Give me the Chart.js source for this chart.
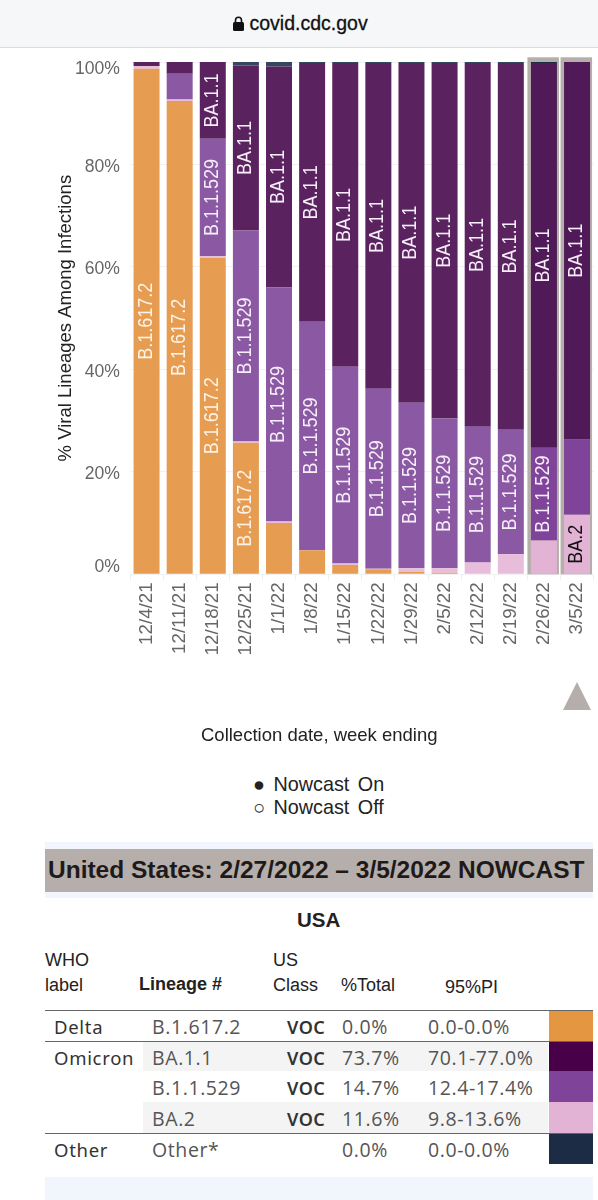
<!DOCTYPE html>
<html><head><meta charset="utf-8">
<script src="https://cdn.jsdelivr.net/npm/chart.js@4"></script>
<style>
html,body{margin:0;padding:0;background:#fff;width:598px;height:1200px;overflow:hidden}
body{position:relative;font-family:"Liberation Sans",Arial,sans-serif;color:#222}
.a{position:absolute;white-space:nowrap;line-height:1}
canvas{position:absolute;left:0;top:0}
.c{font-family:"Open Sans",sans-serif;font-size:19.5px;letter-spacing:.6px;color:#555;transform:translateY(-50%)}
.h{font-size:18px;color:#222;transform:translateY(-50%)}
.v{font-family:"Noto Sans",sans-serif;font-weight:600;font-size:18px;letter-spacing:.5px;color:#333;transform:translateY(-50%)}
.w{font-family:"Noto Sans",sans-serif;font-size:18.5px;letter-spacing:.7px;color:#333;font-weight:400;transform:translateY(-50%)}
</style></head><body>
<div class="a" style="left:0;top:0;width:598px;height:47px;background:#f5f7f9;border-bottom:1px solid #dcdcdc"></div>
<svg class="a" style="left:232px;top:16px" width="13" height="15" viewBox="0 0 13 15"><rect x="1" y="6" width="11" height="9" rx="1.5" fill="#111"/><path d="M3.5 6.5V4.2a3 3 0 0 1 6 0V6.5" fill="none" stroke="#111" stroke-width="1.6"/></svg>
<div class="a" style="left:249.5px;top:14px;font-size:19.5px;font-family:'Liberation Sans';font-weight:400;color:#111;-webkit-text-stroke:.3px #111">covid.cdc.gov</div>
<canvas id="chart" width="598" height="760"></canvas>
<svg class="a" style="left:562px;top:681px" width="30" height="30"><polygon points="15,1 29,29 1,29" fill="#b5aeaa"/></svg>
<div class="a" style="left:201px;top:726px;width:236px;text-align:center;font-size:18.5px;color:#222">Collection date, week ending</div>
<div class="a" style="left:253px;top:775px;font-size:19.8px;word-spacing:3px;color:#222">● Nowcast On</div>
<div class="a" style="left:253px;top:798px;font-size:19.8px;word-spacing:3px;color:#222">○ Nowcast Off</div>
<div class="a" style="left:45px;top:842px;width:548px;height:56px;background:#f1f5fc"></div>
<div class="a" style="left:45px;top:849px;width:548px;height:43px;background:#b5aeaa"></div>
<div class="a" style="left:48px;top:858px;font-size:24.5px;font-weight:700;color:#1f1a1a">United States: 2/27/2022 – 3/5/2022 NOWCAST</div>
<div class="a" style="left:297px;top:910px;font-size:20.5px;font-weight:700;color:#222">USA</div>
<div class="a h" style="left:45px;top:960px">WHO</div><div class="a h" style="left:45px;top:985px">label</div>
<div class="a h" style="left:139px;top:984px;font-weight:700">Lineage #</div>
<div class="a h" style="left:273px;top:960px">US</div><div class="a h" style="left:273px;top:985px">Class</div>
<div class="a h" style="left:341px;top:985px">%Total</div><div class="a h" style="left:445px;top:987px">95%PI</div>
<div class="a" style="left:143px;top:1042px;width:405px;height:29px;background:#f4f4f4"></div>
<div class="a" style="left:143px;top:1102px;width:405px;height:31px;background:#f4f4f4"></div>
<div class="a" style="left:45px;top:1010px;width:548px;height:1px;background:#666"></div>
<div class="a" style="left:45px;top:1041px;width:548px;height:1px;background:#666"></div>
<div class="a" style="left:45px;top:1133px;width:548px;height:1px;background:#666"></div>
<div class="a w" style="left:54px;top:1027px">Delta</div><div class="a w" style="left:54px;top:1058px">Omicron</div><div class="a w" style="left:54px;top:1150px">Other</div>
<div class="a c" style="left:152px;top:1027px">B.1.617.2</div><div class="a c" style="left:152px;top:1058px">BA.1.1</div><div class="a c" style="left:152px;top:1088px">B.1.1.529</div><div class="a c" style="left:152px;top:1119px">BA.2</div><div class="a c" style="left:152px;top:1150px">Other*</div>
<div class="a v" style="left:287px;top:1027px">VOC</div><div class="a v" style="left:287px;top:1058px">VOC</div><div class="a v" style="left:287px;top:1088px">VOC</div><div class="a v" style="left:287px;top:1119px">VOC</div>
<div class="a c" style="left:342px;top:1027px">0.0%</div><div class="a c" style="left:342px;top:1058px">73.7%</div><div class="a c" style="left:342px;top:1088px">14.7%</div><div class="a c" style="left:342px;top:1119px">11.6%</div><div class="a c" style="left:342px;top:1150px">0.0%</div>
<div class="a c" style="left:428px;top:1027px">0.0-0.0%</div><div class="a c" style="left:428px;top:1058px">70.1-77.0%</div><div class="a c" style="left:428px;top:1088px">12.4-17.4%</div><div class="a c" style="left:428px;top:1119px">9.8-13.6%</div><div class="a c" style="left:428px;top:1150px">0.0-0.0%</div>
<div class="a" style="left:549px;top:1011px;width:44px;height:30px;background:#e59640"></div>
<div class="a" style="left:549px;top:1042px;width:44px;height:29px;background:#480049"></div>
<div class="a" style="left:549px;top:1071px;width:44px;height:31px;background:#7f449a"></div>
<div class="a" style="left:549px;top:1102px;width:44px;height:31px;background:#e3b3d5"></div>
<div class="a" style="left:549px;top:1134px;width:44px;height:30px;background:#1c2c44"></div>
<div class="a" style="left:45px;top:1177px;width:548px;height:23px;background:#f1f5fc"></div>
<script>
const categories = ['12/4/21','12/11/21','12/18/21','12/25/21','1/1/22','1/8/22','1/15/22','1/22/22','1/29/22','2/5/22','2/12/22','2/19/22','2/26/22','3/5/22'];
const delta   = [98.7,92.4,61.8,25.7,10.0,4.7,1.8,1.0,0.5,0.3,0,0,0,0];
const ba2     = [0.5,0.3,0.3,0.2,0.3,0,0.3,0.1,0.7,0.9,2.3,3.9,6.6,11.6];
const b11529  = [0,5.0,22.9,41.2,45.7,44.6,38.4,35.1,32.3,29.2,26.5,24.3,18.1,14.7];
const ba11    = [0.8,2.3,15.0,32.2,43.1,50.5,59.3,63.6,66.3,69.4,71.0,71.6,75.1,73.7];
const other   = [0,0,0,0.7,0.9,0.2,0.2,0.2,0.2,0.2,0.2,0.2,0.2,0];
const deltaLabelled  = [0,1,2,3];
const b11529Labelled = [2,3,4,5,6,7,8,9,10,11,12];
const ba11Labelled   = [2,3,4,5,6,7,8,9,10,11,12,13];
const ba2Labelled    = [13];
const nowcastBars = [12,13];
const yTicks = [0,20,40,60,80,100];

const shade = (plain, now) => c => nowcastBars.includes(c.dataIndex) ? now : plain;
const mk = (name, data, plain, now, labelled, text) => ({label:name, data, backgroundColor:shade(plain, now), borderWidth:0, labelled, text});

const barLabels = {
  id:'barLabels',
  afterDatasetsDraw(ch){
    const g = ch.ctx;
    ch.data.datasets.forEach((ds,di)=>{
      if(!ds.labelled) return;
      const meta = ch.getDatasetMeta(di);
      ds.labelled.forEach(i=>{
        const el = meta.data[i];
        g.save();
        g.translate(el.x-0.5,(el.y+el.base)/2);
        g.rotate(-Math.PI/2);
        g.scale(0.9,1);
        g.font = '20px "Liberation Sans"';
        g.fillStyle = ds.text;
        g.textAlign='center'; g.textBaseline='middle';
        g.fillText(ds.label,0,0);
        g.restore();
      });
    });
  }
};
const nowcastFrame = {
  id:'nowcastFrame',
  beforeDatasetsDraw(ch){
    const g = ch.ctx, x = ch.scales.x, y = ch.scales.y;
    nowcastBars.forEach(i=>{
      const cx = x.getPixelForValue(i);
      const t = y.getPixelForValue(100)-4.7, b = y.getPixelForValue(0);
      g.fillStyle = '#b5aeaa';
      g.fillRect(cx-16.5,t,31.5,b-t);
    });
  }
};

new Chart(document.getElementById('chart'),{
  type:'bar',
  data:{labels:categories,datasets:[
    mk('B.1.617.2',delta,'#e69d52','#e59640',deltaLabelled,'#fdf3e6'),
    mk('BA.2',ba2,'#e8bcdb','#e3b3d5',ba2Labelled,'#111'),
    mk('B.1.1.529',b11529,'#8b59a3','#7f449a',b11529Labelled,'#f6eef8'),
    mk('BA.1.1',ba11,'#5a2360','#4f1a57',ba11Labelled,'#f6eef8'),
    mk('Other',other,'#33475f','#1c2c44',null,'#fff')
  ]},
  options:{
    responsive:false,animation:false,
    barPercentage:0.785,categoryPercentage:1,
    layout:{padding:{left:0,right:4.4,top:62,bottom:0}},
    plugins:{legend:{display:false},tooltip:{enabled:false}},
    scales:{
      x:{stacked:true,
        grid:{drawOnChartArea:false,color:'#efefef',tickLength:6},
        border:{display:false},
        ticks:{maxRotation:90,minRotation:90,autoSkip:false,padding:2,color:'#666',font:{family:'"Liberation Sans"',size:18.8}},
        afterFit(s){s.height=185.7;s.paddingLeft=0;s.paddingRight=0;}
      },
      y:{stacked:true,min:0,max:100,
        afterBuildTicks(s){s.ticks=yTicks.map(v=>({value:v}));},
        grid:{color:'#f1f1f1',drawTicks:false},
        border:{display:false},
        ticks:{padding:10,color:'#666',font:{family:'"Liberation Sans"',size:17.6,lineHeight:0.284},
          callback(v){const t=v+'%';return v===100?['','','',t]:v===0?[t,'','','']:['',t];}},
        title:{display:true,text:'% Viral Lineages Among Infections',color:'#222',font:{family:'"Liberation Sans"',size:18.5},padding:{top:55,bottom:0}},
        afterFit(s){s.width=130;}
      }
    }
  },
  plugins:[nowcastFrame,barLabels]
});
</script>
</body></html>
